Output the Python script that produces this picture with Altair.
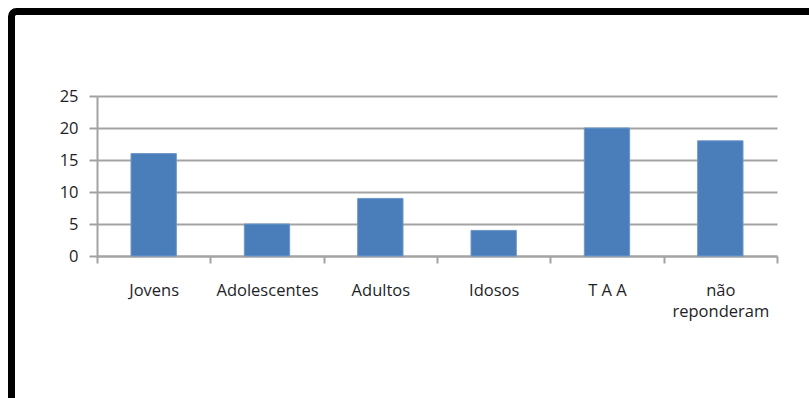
import altair as alt
import pandas as pd

categories = ["Jovens", "Adolescentes", "Adultos", "Idosos", "T A A", "não reponderam"]
values = [16, 5, 9, 4, 20, 18]
y_ticks = [0, 5, 10, 15, 20, 25]

df = pd.DataFrame({"cat": categories, "val": values})

GRID = "#a3a3a3"
TEXT = "#1e1e28"
FONT = "Open Sans"
FS = 16.5

bars = alt.Chart(df).mark_bar(
    color="#4a7ebb", stroke="#6f97c8", strokeWidth=1, width=alt.RelativeBandSize(0.4)
).encode(
    x=alt.X(
        "cat:N",
        sort=categories,
        scale=alt.Scale(paddingInner=0, paddingOuter=0),
        axis=alt.Axis(
            title=None,
            labelAngle=0,
            tickBand="extent",
            ticks=True,
            tickSize=7,
            tickColor=GRID,
            tickWidth=2,
            domainColor=GRID,
            domainWidth=2,
            labelPadding=19,
            labelBaseline="top",
            labelLineHeight=21,
            labelFontSize=FS,
            labelColor=TEXT,
            labelFont=FONT,
            labelExpr="datum.label == 'não reponderam' ? ['não', 'reponderam'] : datum.label",
        ),
    ),
    y=alt.Y(
        "val:Q",
        scale=alt.Scale(domain=[0, 25]),
        axis=alt.Axis(
            values=y_ticks,
            title=None,
            grid=True,
            gridColor=GRID,
            gridWidth=2,
            tickColor=GRID,
            tickWidth=2,
            tickSize=8,
            domainColor=GRID,
            domainWidth=2,
            labelPadding=11,
            labelFontSize=FS,
            labelColor=TEXT,
            labelFont=FONT,
        ),
    ),
)

frame = alt.Chart(pd.DataFrame({"a": [0]})).mark_rect(
    filled=False, stroke="black", strokeWidth=7, cornerRadius=5
).encode(
    x=alt.value(-85.5), x2=alt.value(760), y=alt.value(-84.5), y2=alt.value(330)
)

chart = alt.layer(frame, bars).properties(
    width=680,
    height=160,
    autosize=alt.AutoSizeParams(type="none"),
    padding={"left": 97, "top": 96, "right": 32, "bottom": 142},
    background="white",
).configure_view(stroke=None)

chart.save("out.html", embed_options={"renderer": "svg", "actions": False})
